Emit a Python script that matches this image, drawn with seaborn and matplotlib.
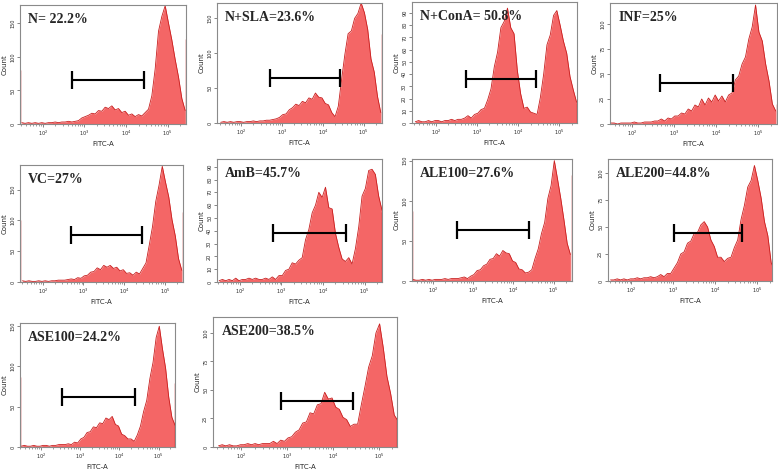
import matplotlib
matplotlib.use("Agg")
import matplotlib.pyplot as plt
from matplotlib.ticker import FixedLocator, LogLocator, NullFormatter
import seaborn as sns

# ---------------- data ----------------
log_channels = [1.50, 1.58, 1.66, 1.74, 1.82, 1.90, 1.98, 2.06, 2.14, 2.22,
                2.30, 2.38, 2.46, 2.54, 2.62, 2.70, 2.78, 2.86, 2.94, 3.02,
                3.10, 3.18, 3.26, 3.34, 3.42, 3.50, 3.58, 3.66, 3.74, 3.82,
                3.90, 3.98, 4.06, 4.14, 4.22, 4.30, 4.38, 4.46, 4.54, 4.62,
                4.70, 4.78, 4.86, 4.94, 5.02, 5.10, 5.18, 5.26, 5.34, 5.42]

labels = ["N= 22.2%", "N+SLA=23.6%", "N+ConA= 50.8%", "INF=25%", "VC=27%",
          "AmB=45.7%", "ALE100=27.6%", "ALE200=44.8%", "ASE100=24.2%", "ASE200=38.5%"]

counts_N = [2, 1, 2, 1, 2, 1, 2, 1, 2, 2, 3, 2, 3, 3, 4, 3, 4, 5, 9, 11,
            13, 16, 15, 20, 19, 25, 23, 27, 21, 23, 17, 19, 13, 15, 11, 14, 12, 17, 22, 42,
            82, 138, 160, 176, 150, 125, 96, 70, 38, 20]
counts_SLA = [1, 2, 1, 2, 1, 2, 2, 1, 2, 2, 3, 2, 3, 3, 4, 4, 5, 6,
              8, 12, 13, 19, 22, 27, 25, 31, 29, 36, 34, 43, 37, 36, 28, 26, 15, 9, 24, 62,
              98, 128, 132, 150, 157, 172, 158, 134, 92, 73, 38, 15]
counts_ConA = [1, 2, 1, 1, 2, 1, 2, 2, 1, 2, 2, 3, 2, 3,
               3, 4, 6, 4, 7, 8, 11, 12, 19, 28, 46, 58, 78, 83, 94, 78, 73, 43, 24, 12,
               13, 9, 8, 7, 21, 40, 64, 72, 88, 92, 80, 67, 57, 38, 27, 17]
counts_INF = [1, 1, 0, 1, 1, 1, 1, 2, 1, 1, 2, 2, 2, 3,
              3, 5, 3, 6, 5, 8, 8, 11, 10, 15, 13, 19, 17, 25, 19, 26, 22, 29, 23, 28,
              22, 29, 31, 44, 48, 60, 67, 85, 97, 119, 92, 83, 60, 43, 20, 13]
counts_VC = [2, 1, 2, 1, 1, 2, 1, 2, 1, 2, 2, 3, 3, 3,
             4, 5, 4, 7, 6, 10, 11, 16, 17, 23, 20, 27, 24, 27, 22, 24, 18, 20, 14, 15,
             11, 16, 13, 22, 31, 60, 90, 131, 157, 188, 162, 138, 101, 75, 38, 19]
counts_AmB = [1, 2, 1, 2, 1, 3, 1, 2, 2, 3, 2, 3, 2, 2,
              3, 2, 4, 2, 5, 5, 9, 10, 15, 14, 17, 19, 33, 41, 54, 60, 70, 66, 74, 58,
              57, 38, 27, 18, 16, 19, 14, 26, 43, 67, 73, 87, 88, 84, 67, 56]
counts_ALE100 = [2, 1, 1, 2, 1, 2, 1, 2, 2, 2, 3, 2, 3, 3,
                 3, 4, 5, 3, 6, 8, 13, 14, 19, 21, 27, 28, 34, 31, 38, 35, 34, 25, 23, 15,
                 14, 10, 11, 14, 28, 40, 59, 73, 103, 119, 150, 127, 103, 76, 47, 33]
counts_ALE200 = [1, 1, 2, 1, 2, 1, 2, 2, 3, 2, 3, 3, 4, 3,
                 4, 6, 4, 7, 7, 12, 17, 25, 27, 35, 37, 44, 45, 52, 55, 50, 38, 32, 22, 22,
                 18, 21, 22, 31, 38, 57, 70, 87, 93, 107, 93, 77, 55, 42, 17, 10]
counts_ASE100 = [1, 2, 1, 1, 2, 1, 1, 2, 2, 1, 2, 2, 3, 3,
                 3, 4, 3, 6, 5, 10, 12, 18, 19, 25, 24, 30, 29, 36, 34, 38, 28, 26, 16, 14,
                 10, 10, 7, 15, 26, 44, 58, 85, 105, 136, 150, 122, 98, 62, 37, 27]
counts_ASE200 = [1, 2, 1, 2, 1, 1, 2, 2, 3, 2, 3, 2, 3, 3,
                 3, 5, 3, 6, 5, 8, 9, 13, 15, 21, 22, 30, 29, 37, 38, 48, 42, 43, 35, 33,
                 26, 24, 18, 20, 20, 37, 53, 70, 80, 100, 108, 87, 62, 47, 28, 23]

all_counts = [counts_N, counts_SLA, counts_ConA, counts_INF, counts_VC,
              counts_AmB, counts_ALE100, counts_ALE200, counts_ASE100, counts_ASE200]

# off-scale events piled at the lower / upper ends of the scale
edge_low = [80, 0, 0, 0, 100, 0, 87, 0, 87, 0]
edge_high = [127, 128, 16, 20, 114, 55, 132, 0, 80, 25]

# marker gate (FITC-A range and the height where it is drawn)
gate_lo = [500, 500, 550, 470, 490, 620, 400, 1050, 350, 720]
gate_hi = [27000, 27000, 27500, 25000, 28000, 36000, 24500, 43500, 24500, 28000]
gate_y = [66, 64, 36, 41, 76, 38, 64, 44, 62, 40]

y_ticks = [[0, 50, 100, 150], [0, 50, 100, 150], list(range(0, 100, 10)),
           [0, 25, 50, 75, 100], [0, 50, 100, 150], list(range(0, 100, 10)),
           [0, 50, 100, 150], [0, 25, 50, 75, 100], [0, 50, 100, 150],
           [0, 25, 50, 75, 100]]
y_max = [177, 172, 99, 121, 190, 96, 152, 113, 154, 114]
x_range_log = [(1.456, 5.44), (1.41, 5.45), (1.42, 5.43), (1.48, 5.45), (1.44, 5.45),
               (1.45, 5.42), (1.48, 5.46), (1.44, 5.36), (1.47, 5.42), (1.38, 5.40)]
x_ticks = [100, 1000, 10000, 100000]
x_tick_labels = ["$10^{2}$", "$10^{3}$", "$10^{4}$", "$10^{5}$"]

# ---------------- layout (pixels: left, top, right, bottom) ----------------
W, H = 778, 472
rects = [(20, 5, 186, 124), (217, 3, 382, 123), (412, 2, 577, 123), (610, 3, 777, 124),
         (20, 165, 183, 282), (217, 159, 382, 282), (412, 159, 572, 281), (608, 159, 772, 281),
         (20, 323, 175, 447), (213, 317, 397, 447)]

sns.set_style("white")
plt.rcParams["font.family"] = ["DejaVu Sans"]

fill_col = "#F46666"
edge_col = "#C81E1E"
frame_col = "#8A8A8A"

fig = plt.figure(figsize=(W / 100, H / 100), dpi=100)

x_vals = [10 ** v for v in log_channels]

for i in range(10):
    l, t, r, b = rects[i]
    ax = fig.add_axes([l / W, 1 - b / H, (r - l) / W, (b - t) / H])
    ax.set_xscale("log")
    xlo, xhi = 10 ** x_range_log[i][0], 10 ** x_range_log[i][1]
    ax.fill_between(x_vals, 0, all_counts[i], color=fill_col, linewidth=0, zorder=1)
    sns.lineplot(x=x_vals, y=all_counts[i], ax=ax, color=edge_col, linewidth=0.6,
                 zorder=2, estimator=None)
    if edge_low[i] > 0:
        ax.vlines(xlo * 1.01, 0, edge_low[i], color=edge_col, linewidth=1.0, zorder=2)
    if edge_high[i] > 0:
        ax.vlines(xhi / 1.01, 0, edge_high[i], color=edge_col, linewidth=1.0, zorder=2)
    ax.plot([gate_lo[i], gate_hi[i]], [gate_y[i], gate_y[i]], color="black", lw=1.5,
            marker="|", markersize=13, mew=1.6, zorder=3)
    ax.set_xlim(xlo, xhi)
    ax.set_ylim(0, y_max[i])
    ax.xaxis.set_major_locator(FixedLocator(x_ticks))
    ax.set_xticklabels(x_tick_labels)
    ax.xaxis.set_minor_locator(LogLocator(base=10, subs=range(2, 10)))
    ax.xaxis.set_minor_formatter(NullFormatter())
    ax.set_yticks(y_ticks[i])
    ax.tick_params(axis="both", which="major", direction="out", length=2, width=0.5,
                   color="#555555", labelsize=3.6, pad=1.5)
    ax.tick_params(axis="x", which="minor", direction="out", length=1.4, width=0.4,
                   color="#555555", bottom=True)
    ax.tick_params(axis="y", which="major", left=True, labelrotation=90)
    ax.tick_params(axis="x", which="major", bottom=True)
    for lab in ax.get_yticklabels():
        lab.set_va("center")
    ax.set_xlabel("FITC-A", fontsize=5, labelpad=2)
    ax.set_ylabel("Count", fontsize=5, labelpad=2)
    for s in ax.spines.values():
        s.set_color(frame_col)
        s.set_linewidth(0.8)
        s.set_visible(True)
    ax.text(0.05, 0.935, labels[i], transform=ax.transAxes, ha="left", va="top",
            fontsize=10, fontweight="bold", family=["Liberation Serif", "DejaVu Serif"],
            zorder=4)

fig.savefig("out.png", dpi=100)
